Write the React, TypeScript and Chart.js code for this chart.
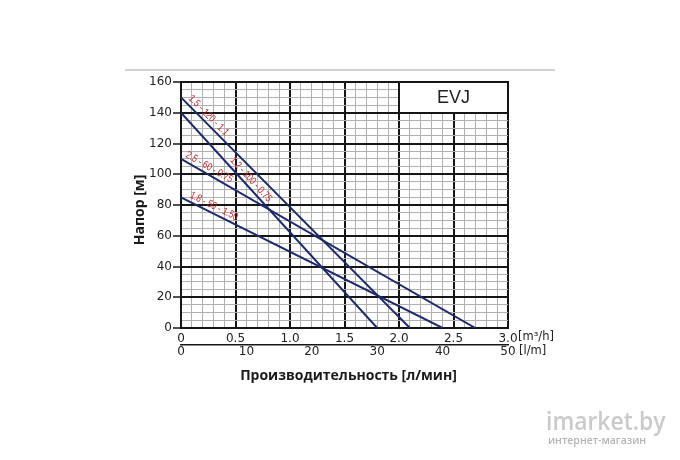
import React, { useEffect, useRef } from 'react';
import { Chart, registerables } from 'chart.js';

Chart.register(...registerables);

// Pump models (label text as printed on the curves)
const modelLabels = ['1.5 - 120 - 1.1', '1.2 - 100 - 0.75', '2.5 - 60 - 0.75', '1.8 - 50 - 1.50'];
// Head at zero flow [m]
const shutoffHead = [150, 140, 110, 85];
// Flow at zero head [m³/h]
const maxFlow = [2.1, 1.8, 2.7, 2.4];
// Flow value where each curve's label starts [m³/h]
const labelFlow = [0.04, 0.42, 0.02, 0.06];

const flowMin = 0;
const flowMax = 3;
const flowLpmMax = 50;
const headMin = 0;
const headMax = 160;

const chartTitle = 'EVJ';
const xTitle = 'Производительность [л/мин]';
const yTitle = 'Напор [м]';
const unitM3h = '[m³/h]';
const unitLpm = '[l/m]';
const watermark = 'imarket.by';
const watermarkSub = 'интернет-магазин';

const lineColor = '#1f2a68';
const labelColor = '#c0282c';
const majorColor = '#161616';
const minorColor = '#b0b0b0';
const tickFont = { family: 'DejaVu Sans', size: 12 };

const isMultiple = (v: number, step: number) => Math.abs(v / step - Math.round(v / step)) < 1e-6;

const decorPlugin = {
  id: 'decor',
  beforeDraw(chart: any) {
    const ctx = chart.ctx;
    const a = chart.chartArea;
    ctx.save();
    ctx.fillStyle = '#ffffff';
    ctx.fillRect(0, 0, chart.width, chart.height);
    ctx.strokeStyle = '#c2c2c2';
    ctx.lineWidth = 1.5;
    ctx.beginPath();
    ctx.moveTo(a.left - 56, a.top - 12);
    ctx.lineTo(a.right + 47, a.top - 12);
    ctx.stroke();
    ctx.restore();
  },
  beforeDatasetsDraw(chart: any) {
    const ctx = chart.ctx;
    const xs = chart.scales.x;
    const ys = chart.scales.y;
    const l = xs.getPixelForValue(2.0);
    const r = xs.getPixelForValue(3.0);
    const t = ys.getPixelForValue(160);
    const b = ys.getPixelForValue(140);
    ctx.save();
    ctx.fillStyle = '#ffffff';
    ctx.fillRect(l, t, r - l, b - t);
    ctx.strokeStyle = majorColor;
    ctx.lineWidth = 2;
    ctx.strokeRect(Math.round(l), Math.round(t), Math.round(r - l), Math.round(b - t));
    ctx.fillStyle = '#222';
    ctx.font = '18px "Liberation Sans", Arial, sans-serif';
    ctx.textAlign = 'center';
    ctx.textBaseline = 'middle';
    ctx.fillText(chartTitle, (l + r) / 2, (t + b) / 2 + 1);
    ctx.restore();
  },
  afterDatasetsDraw(chart: any) {
    const ctx = chart.ctx;
    const xs = chart.scales.x;
    const ys = chart.scales.y;
    const x2 = chart.scales.x2;
    const a = chart.chartArea;
    ctx.save();
    // curve labels
    ctx.fillStyle = labelColor;
    ctx.font = '10.5px "Liberation Sans", Arial, sans-serif';
    ctx.textAlign = 'left';
    ctx.textBaseline = 'bottom';
    modelLabels.forEach((txt, i) => {
      const x0 = xs.getPixelForValue(0);
      const y0 = ys.getPixelForValue(shutoffHead[i]);
      const x1 = xs.getPixelForValue(maxFlow[i]);
      const y1 = ys.getPixelForValue(0);
      const ang = Math.atan2(y1 - y0, x1 - x0);
      const f = labelFlow[i];
      const h = shutoffHead[i] * (1 - f / maxFlow[i]);
      ctx.save();
      ctx.translate(xs.getPixelForValue(f), ys.getPixelForValue(h));
      ctx.rotate(ang);
      ctx.scale(0.8, 1);
      ctx.fillText(txt, 0, -1.5);
      ctx.restore();
    });
    // unit labels
    ctx.fillStyle = '#222';
    ctx.font = '11.5px "DejaVu Sans", sans-serif';
    ctx.textBaseline = 'middle';
    ctx.textAlign = 'left';
    ctx.fillText(unitM3h, a.right + 10, a.bottom + 9.5);
    ctx.fillText(unitLpm, a.right + 11, x2.top + 6);
    // axis titles
    ctx.font = 'bold 14px "Open Sans", sans-serif';
    ctx.fillStyle = '#1a1a1a';
    ctx.textAlign = 'center';
    ctx.fillText(xTitle, (a.left + a.right) / 2 + 4, 376);
    ctx.save();
    ctx.translate(a.left - 41, (a.top + a.bottom) / 2 + 5);
    ctx.rotate(-Math.PI / 2);
    ctx.fillText(yTitle, 0, 0);
    ctx.restore();
    // watermark
    ctx.fillStyle = '#cacaca';
    ctx.font = '600 26px "Open Sans", sans-serif';
    ctx.textAlign = 'left';
    ctx.textBaseline = 'alphabetic';
    ctx.save();
    ctx.translate(546, 430);
    ctx.scale(0.88, 1);
    ctx.fillText(watermark, 0, 0);
    ctx.restore();
    ctx.fillStyle = '#b4b4b4';
    ctx.font = '600 10.5px "Open Sans", sans-serif';
    ctx.fillText(watermarkSub, 548, 444);
    ctx.restore();
  },
};

export default function App() {
  const ref = useRef<HTMLCanvasElement | null>(null);

  useEffect(() => {
    if (!ref.current) return;
    const datasets = modelLabels.map((lab, i) => ({
      label: lab,
      data: [
        { x: 0, y: shutoffHead[i] },
        { x: maxFlow[i], y: 0 },
      ],
      borderColor: lineColor,
      borderWidth: 2,
      pointRadius: 0,
      fill: false,
      tension: 0,
      xAxisID: 'x',
      yAxisID: 'y',
    }));

    const gridColor = (step: number) => (c: any) =>
      c.tick && isMultiple(c.tick.value, step) ? majorColor : minorColor;
    const gridWidth = (step: number) => (c: any) =>
      c.tick && isMultiple(c.tick.value, step) ? 2 : 1;

    const chart = new Chart(ref.current, {
      type: 'line',
      data: { datasets },
      plugins: [decorPlugin],
      options: {
        responsive: false,
        animation: false,
        events: [],
        layout: { padding: { top: 82, right: 172, bottom: 84, left: 0 } },
        plugins: {
          legend: { display: false },
          tooltip: { enabled: false },
          title: { display: false },
        },
        scales: {
          x: {
            type: 'linear',
            position: 'bottom',
            weight: 0,
            min: flowMin,
            max: flowMax,
            ticks: {
              stepSize: 0.1,
              autoSkip: false,
              maxRotation: 0,
              padding: 4,
              color: '#222',
              font: tickFont,
              callback: (v: any) => (isMultiple(v, 0.5) ? (v === 0 ? '0' : Number(v).toFixed(1)) : ''),
            },
            grid: { drawTicks: false, color: gridColor(0.5), lineWidth: gridWidth(0.5) },
            border: { color: majorColor, width: 2 },
            afterFit: (s: any) => {
              s.height = 17;
            },
          },
          x2: {
            type: 'linear',
            position: 'bottom',
            axis: 'x',
            weight: 1,
            min: 0,
            max: flowLpmMax,
            ticks: {
              stepSize: 10,
              autoSkip: false,
              maxRotation: 0,
              padding: 0,
              color: '#222',
              font: tickFont,
            },
            grid: { display: false, drawTicks: false },
            border: { color: majorColor, width: 1.5 },
            afterFit: (s: any) => {
              s.height = 31;
            },
          },
          y: {
            type: 'linear',
            position: 'left',
            min: headMin,
            max: headMax,
            ticks: {
              stepSize: 5,
              autoSkip: false,
              padding: 1,
              color: '#222',
              font: tickFont,
              callback: (v: any) => (isMultiple(v, 20) ? String(v) : ''),
            },
            grid: {
              tickLength: 8,
              color: gridColor(20),
              lineWidth: gridWidth(20),
              tickColor: (c: any) => (c.tick && isMultiple(c.tick.value, 20) ? majorColor : 'rgba(0,0,0,0)'),
              tickWidth: 1.5,
            },
            border: { color: majorColor, width: 2 },
            afterFit: (s: any) => {
              s.width = 181;
            },
          },
        },
      } as any,
    });
    return () => chart.destroy();
  }, []);

  return (
    <div style={{ position: 'fixed', left: 0, top: 0, width: 680, height: 460, background: '#fff' }}>
      <canvas ref={ref} width={680} height={460} />
    </div>
  );
}
